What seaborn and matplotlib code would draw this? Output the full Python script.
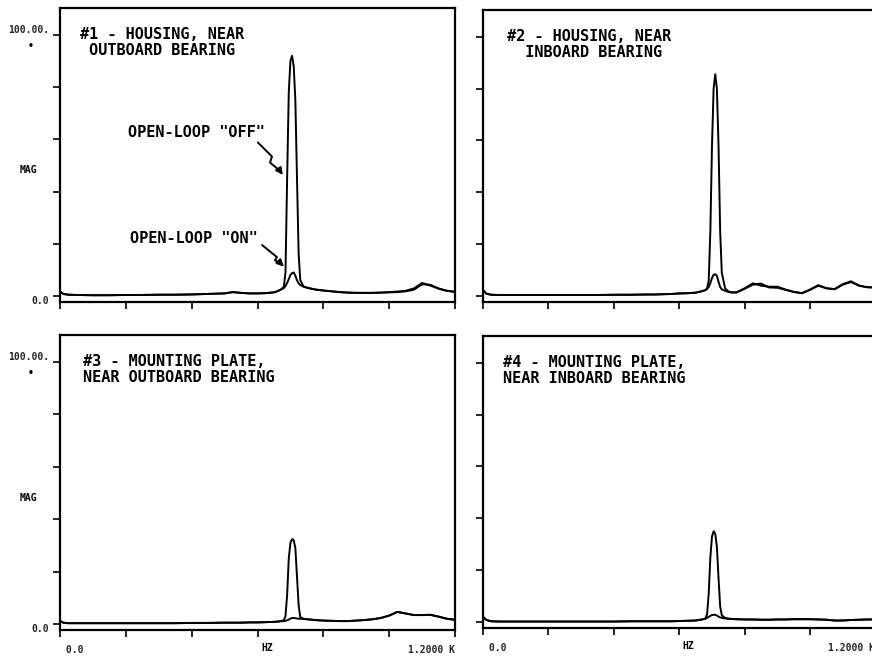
import matplotlib
matplotlib.use("Agg")
import matplotlib.pyplot as plt
import numpy as np
import pandas as pd
import seaborn as sns

# ---------------- data ----------------
FREQ_HZ = [0, 10, 25, 50, 100, 150, 200, 250, 300, 350, 400, 450, 500, 525, 550,
           575, 600, 625, 650, 660, 670, 680, 685, 690, 695, 700, 705, 710, 715,
           720, 725, 730, 740, 750, 760, 775, 800, 825, 850, 875, 900, 925, 950,
           975, 1000, 1025, 1050, 1075, 1100, 1125, 1150, 1175, 1200]

P1_OFF = [1.8, 0.8, 0.5, 0.4, 0.3, 0.3, 0.4, 0.4, 0.5, 0.5, 0.6, 0.8, 1.0, 1.5, 1.2,
          1.0, 1.0, 1.1, 1.4, 1.8, 2.4, 3.5, 9.0, 45.0, 78.0, 90.0, 92.0, 88.0, 75.0,
          45.0, 16.0, 6.0, 3.6, 3.2, 2.9, 2.5, 2.1, 1.8, 1.5, 1.3, 1.2, 1.2, 1.2,
          1.3, 1.5, 1.7, 2.0, 2.9, 5.0, 4.0, 2.8, 2.0, 1.6]
P1_ON = [1.8, 0.8, 0.5, 0.4, 0.3, 0.3, 0.4, 0.4, 0.5, 0.5, 0.6, 0.8, 1.0, 1.5, 1.2,
         1.0, 1.0, 1.1, 1.4, 1.8, 2.4, 3.0, 3.8, 5.0, 6.5, 8.0, 8.8, 9.0, 7.8,
         6.0, 4.8, 4.2, 3.6, 3.2, 2.9, 2.5, 2.1, 1.8, 1.5, 1.3, 1.2, 1.2, 1.2,
         1.3, 1.4, 1.5, 1.8, 2.4, 4.5, 4.3, 2.9, 2.0, 1.6]

P2_OFF = [2.3, 0.9, 0.5, 0.4, 0.4, 0.4, 0.4, 0.4, 0.4, 0.4, 0.5, 0.5, 0.6, 0.6, 0.7,
          0.8, 1.0, 1.1, 1.3, 1.6, 1.9, 2.3, 2.8, 6.0, 25.0, 58.0, 80.0, 85.5, 80.0,
          58.0, 25.0, 9.0, 3.0, 1.8, 1.4, 1.4, 3.0, 4.9, 4.0, 3.6, 3.6, 2.5, 1.6,
          1.1, 2.5, 4.2, 3.0, 2.7, 4.6, 5.7, 4.0, 3.4, 3.3]
P2_ON = [2.3, 0.9, 0.5, 0.4, 0.4, 0.4, 0.4, 0.4, 0.4, 0.4, 0.5, 0.5, 0.6, 0.6, 0.7,
         0.8, 1.0, 1.1, 1.3, 1.6, 1.9, 2.3, 2.8, 3.5, 5.0, 7.0, 8.2, 8.4, 7.8,
         5.5, 3.5, 2.6, 2.0, 1.6, 1.4, 1.4, 2.8, 4.4, 4.8, 3.3, 3.2, 2.4, 1.6,
         1.1, 2.4, 4.0, 3.0, 2.6, 4.4, 5.4, 4.0, 3.4, 3.3]

P3_OFF = [1.2, 0.5, 0.3, 0.3, 0.3, 0.3, 0.3, 0.3, 0.3, 0.3, 0.4, 0.4, 0.5, 0.5, 0.5,
          0.6, 0.6, 0.7, 0.8, 0.9, 1.1, 1.4, 3.0, 11.0, 25.0, 31.0, 32.4, 32.0, 29.0,
          18.0, 7.0, 2.6, 2.0, 1.8, 1.7, 1.5, 1.3, 1.2, 1.1, 1.1, 1.3, 1.5, 1.8,
          2.3, 3.2, 4.6, 4.0, 3.4, 3.4, 3.5, 2.8, 2.0, 1.6]
P3_ON = [1.2, 0.5, 0.3, 0.3, 0.3, 0.3, 0.3, 0.3, 0.3, 0.3, 0.4, 0.4, 0.5, 0.5, 0.5,
         0.6, 0.6, 0.7, 0.8, 0.9, 1.0, 1.1, 1.2, 1.4, 1.7, 2.0, 2.3, 2.3, 2.2,
         2.1, 2.0, 2.0, 1.9, 1.8, 1.7, 1.5, 1.3, 1.2, 1.1, 1.1, 1.3, 1.5, 1.8,
         2.3, 3.2, 4.6, 4.0, 3.4, 3.4, 3.5, 2.8, 2.0, 1.6]

P4_OFF = [2.0, 0.8, 0.3, 0.2, 0.2, 0.2, 0.2, 0.2, 0.2, 0.2, 0.2, 0.3, 0.3, 0.3, 0.3,
          0.3, 0.4, 0.5, 0.6, 0.8, 1.0, 1.4, 3.0, 11.0, 25.0, 33.0, 35.0, 34.0, 29.0,
          17.0, 6.0, 2.6, 1.6, 1.3, 1.2, 1.1, 1.0, 1.0, 0.9, 0.9, 1.0, 1.0, 1.1,
          1.1, 1.1, 1.0, 0.9, 0.6, 0.6, 0.8, 0.9, 1.0, 1.0]
P4_ON = [2.0, 0.8, 0.3, 0.2, 0.2, 0.2, 0.2, 0.2, 0.2, 0.2, 0.2, 0.3, 0.3, 0.3, 0.3,
         0.3, 0.4, 0.5, 0.6, 0.8, 1.0, 1.3, 1.6, 2.0, 2.4, 2.7, 2.8, 2.8, 2.5,
         2.1, 1.8, 1.6, 1.4, 1.3, 1.2, 1.1, 1.0, 1.0, 0.9, 0.9, 1.0, 1.0, 1.1,
         1.1, 1.1, 1.0, 0.9, 0.6, 0.6, 0.8, 0.9, 1.0, 1.0]

PANEL_TITLES = ["#1 - HOUSING, NEAR\n OUTBOARD BEARING",
                "#2 - HOUSING, NEAR\n  INBOARD BEARING",
                "#3 - MOUNTING PLATE,\nNEAR OUTBOARD BEARING",
                "#4 - MOUNTING PLATE,\nNEAR INBOARD BEARING"]
SERIES = [(P1_OFF, P1_ON), (P2_OFF, P2_ON), (P3_OFF, P3_ON), (P4_OFF, P4_ON)]
X_TICKS = [0, 200, 400, 600, 800, 1000, 1200]
Y_TICKS = [0, 20, 40, 60, 80, 100]
Y_TICK_LABELS = ["0.0", "", "", "", "", "100.00."]
X_TICK_LABELS = [" 0.0", "", "", "", "", "", "1.2000 K"]
LABEL_OFF = 'OPEN-LOOP "OFF"'
LABEL_ON = 'OPEN-LOOP "ON"'

# ---------------- style ----------------
sns.set_theme(style="white")
plt.rcParams["font.family"] = ["DejaVu Sans Mono"]
plt.rcParams["font.weight"] = "bold"

fig = plt.figure(figsize=(8.72, 6.59), dpi=100)
fig.patch.set_facecolor("white")

# axes rectangles (figure fractions)
rects = [
    [0.0688, 0.5417, 0.4530, 0.4462],
    [0.5540, 0.5417, 0.4500, 0.4432],
    [0.0688, 0.0440, 0.4530, 0.4477],
    [0.5540, 0.0470, 0.4500, 0.4432],
]

for i, rect in enumerate(rects):
    ax = fig.add_axes(rect)
    off, on = SERIES[i]
    df = pd.DataFrame({
        "freq": FREQ_HZ * 2,
        "mag": list(off) + list(on),
        "state": ["OFF"] * len(FREQ_HZ) + ["ON"] * len(FREQ_HZ),
    })
    sns.lineplot(data=df, x="freq", y="mag", hue="state",
                 palette={"OFF": "black", "ON": "black"},
                 legend=False, ax=ax, linewidth=1.4, sort=False,
                 estimator=None)
    ax.set_xlim(0, 1200)
    ax.set_ylim(-2.3, 110.3)
    ax.set_facecolor("white")
    for sp in ax.spines.values():
        sp.set_visible(True)
        sp.set_color("black")
        sp.set_linewidth(1.6)
    ax.set_xticks(X_TICKS)
    ax.set_yticks(Y_TICKS)
    ax.tick_params(axis="both", direction="out", length=5, width=1.2,
                   color="black", labelsize=7, bottom=True, left=True)
    ax.tick_params(axis="x", pad=6)
    ax.tick_params(axis="y", pad=3)

    left_col = i in (0, 2)
    bottom_row = i in (2, 3)

    if left_col:
        ax.set_yticklabels(Y_TICK_LABELS)
        labs = ax.get_yticklabels()
        labs[0].set_va("top")
        labs[-1].set_va("bottom")
        ax.set_ylabel("MAG", rotation=0, fontsize=7, fontweight="bold",
                      color="black", va="center", ha="center")
        ax.yaxis.set_label_coords(-0.081, 0.449)
        ax.text(-0.073, 0.872, "\u2022", transform=ax.transAxes, fontsize=7,
                fontweight="bold", ha="center", va="center", color="black")
    else:
        ax.set_yticklabels([])
        ax.set_ylabel("")

    if bottom_row:
        ax.set_xticklabels(X_TICK_LABELS)
        xl = ax.get_xticklabels()
        xl[0].set_ha("left")
        xl[-1].set_ha("right")
        ax.set_xlabel("HZ", fontsize=7, fontweight="bold", color="black",
                      va="top")
        ax.xaxis.set_label_coords(0.524, -0.045)
    else:
        ax.set_xticklabels([])
        ax.set_xlabel("")

    title_x = [0.050, 0.062, 0.058, 0.050][i]
    ax.text(title_x, 0.935, PANEL_TITLES[i], transform=ax.transAxes,
            fontsize=11, fontweight="bold", ha="left", va="top",
            color="black", linespacing=1.05)

    if i == 0:
        # annotation labels with squiggly arrows
        ax.text(207, 62.6, LABEL_OFF, fontsize=11, fontweight="bold",
                ha="left", va="center", color="black")
        ax.plot([601, 644, 638, 668], [58.8, 53.4, 51.1, 48.0],
                color="black", lw=1.4)
        ax.annotate("", xy=(682, 45.5), xytext=(662, 49.0),
                    arrowprops=dict(arrowstyle="-|>", color="black", lw=1.4,
                                    mutation_scale=10))
        ax.text(213, 22.1, LABEL_ON, fontsize=11, fontweight="bold",
                ha="left", va="center", color="black")
        ax.plot([614, 659, 653, 672], [19.5, 14.9, 13.7, 12.3],
                color="black", lw=1.4)
        ax.annotate("", xy=(686, 10.5), xytext=(668, 12.8),
                    arrowprops=dict(arrowstyle="-|>", color="black", lw=1.4,
                                    mutation_scale=10))

fig.savefig("out.png", dpi=100, facecolor="white")
